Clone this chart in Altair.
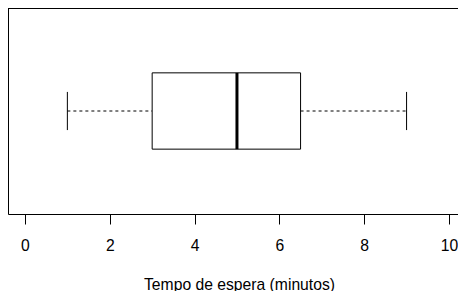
import altair as alt
import pandas as pd

# Five-number summary
stat_names = ["min", "q1", "median", "q3", "max"]
stat_values = [1, 3, 5, 6.5, 9]
x_ticks = [0, 2, 4, 6, 8, 10]
x_title = "Tempo de espera (minutos)"

df = pd.DataFrame([dict(zip(stat_names, stat_values))])

W, H = 450, 206
FONT = "Liberation Sans"
FS = 15.7

xscale = alt.Scale(domain=[-0.4, 10.213], nice=False, zero=False)
yscale = alt.Scale(domain=[0.46, 1.54], nice=False, zero=False)

xaxis = alt.Axis(values=x_ticks, title=x_title, tickSize=10, labelPadding=14,
                 grid=False, format="d", labelFontSize=FS, titleFontSize=FS,
                 titleFontWeight="normal", titleBaseline="alphabetic", titleY=75,
                 titleX=231, labelFont=FONT, titleFont=FONT)
yaxis = alt.Axis(ticks=False, labels=False, title=None, grid=False, domain=True)


def X(field):
    return alt.X(f"{field}:Q", scale=xscale, axis=xaxis)


def Yd(v):
    return alt.Y(datum=v, scale=yscale, axis=yaxis)


base = alt.Chart(df)

whisk_lo = base.mark_rule(color="black", strokeWidth=1, strokeDash=[3, 3]).encode(
    x=X("min"), x2="q1:Q", y=Yd(1.0))
whisk_hi = base.mark_rule(color="black", strokeWidth=1, strokeDash=[3, 3]).encode(
    x=X("q3"), x2="max:Q", y=Yd(1.0))
cap_lo = base.mark_rule(color="black", strokeWidth=1).encode(
    x=X("min"), y=Yd(0.9), y2=alt.Y2(datum=1.1))
cap_hi = base.mark_rule(color="black", strokeWidth=1).encode(
    x=X("max"), y=Yd(0.9), y2=alt.Y2(datum=1.1))
box = base.mark_rect(fill="white", stroke="black", strokeWidth=1).encode(
    x=X("q1"), x2="q3:Q", y=Yd(0.8), y2=alt.Y2(datum=1.2))
median = base.mark_rule(color="black", strokeWidth=3).encode(
    x=X("median"), y=Yd(0.8), y2=alt.Y2(datum=1.2))
top_line = base.mark_rule(color="black", strokeWidth=1).encode(
    x=alt.value(0), x2=alt.value(W), y=alt.value(0.5))

chart = alt.layer(whisk_lo, whisk_hi, cap_lo, cap_hi, box, median, top_line).properties(
    width=W, height=H,
    autosize=alt.AutoSizeParams(type="none"),
    padding={"left": 0, "top": 0, "right": 0, "bottom": 77},
).configure_view(stroke=None).configure_axis(
    domainColor="black", tickColor="black", labelColor="black", titleColor="black",
    domainWidth=1, tickWidth=1,
)

chart.save("out.html", embed_options={"renderer": "svg", "actions": False})
